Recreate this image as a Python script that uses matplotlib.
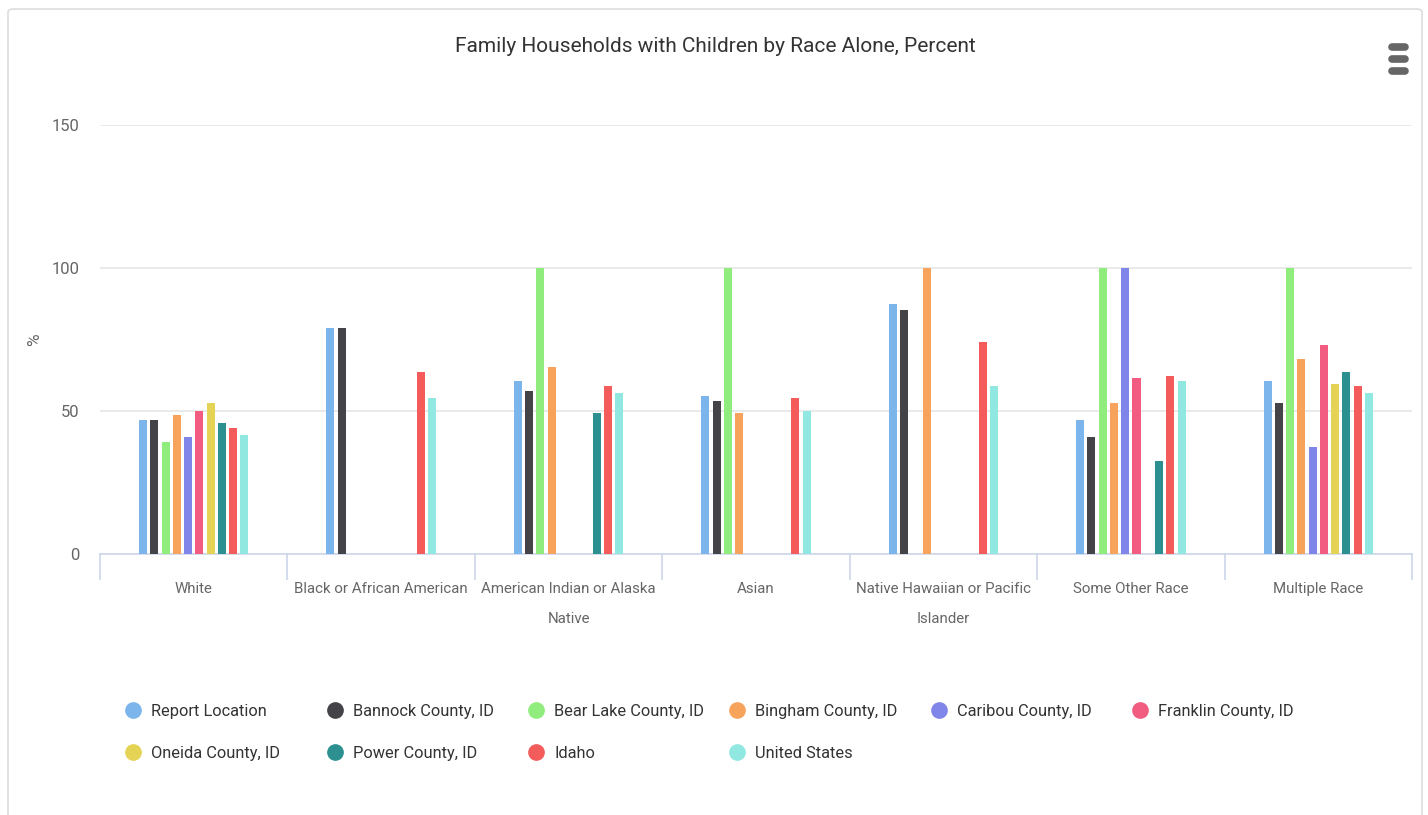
import matplotlib
matplotlib.use("Agg")
import matplotlib.pyplot as plt
import numpy as np
from matplotlib.lines import Line2D
from matplotlib.patches import FancyBboxPatch

plt.rcParams.update({
    "font.family": ["Roboto", "DejaVu Sans"],
    "figure.dpi": 100,
    "figure.facecolor": "white",
})

nan = np.nan

categories = [
    "White",
    "Black or African American",
    "American Indian or Alaska\nNative",
    "Asian",
    "Native Hawaiian or Pacific\nIslander",
    "Some Other Race",
    "Multiple Race",
]

series_names = [
    "Report Location", "Bannock County, ID", "Bear Lake County, ID",
    "Bingham County, ID", "Caribou County, ID", "Franklin County, ID",
    "Oneida County, ID", "Power County, ID", "Idaho", "United States",
]

colors = [
    "#7cb5ec", "#434348", "#90ed7d", "#f7a35c", "#8085e9",
    "#f15c80", "#e4d354", "#2b908f", "#f45b5b", "#91e8e1",
]

# one list per series, values by category (nan = no data)
report_location = [46.7, 79.1, 60.4, 55.3, 87.5, 46.7, 60.5]
bannock = [46.7, 79.1, 56.9, 53.6, 85.2, 40.8, 52.8]
bear_lake = [39.3, nan, 100.0, 100.0, nan, 100.0, 100.0]
bingham = [48.5, nan, 65.5, 49.4, 100.0, 52.8, 68.2]
caribou = [40.8, nan, nan, nan, nan, 100.0, 37.5]
franklin = [50.1, nan, nan, nan, nan, 61.4, 73.2]
oneida = [52.7, nan, nan, nan, nan, nan, 59.5]
power = [45.9, nan, 49.4, nan, nan, 32.5, 63.8]
idaho = [44.2, 63.8, 58.8, 54.5, 74.0, 62.1, 58.7]
united_states = [41.6, 54.7, 56.2, 50.1, 58.7, 60.5, 56.4]

all_series = [report_location, bannock, bear_lake, bingham, caribou,
              franklin, oneida, power, idaho, united_states]

W, H = 1428, 815
fig = plt.figure(figsize=(W / 100, H / 100), dpi=100)

# card border
fig.add_artist(FancyBboxPatch((8 / W, -0.05), 1414 / W, 1 - 9 / H + 0.05,
                              boxstyle="round,pad=0,rounding_size=0.004",
                              transform=fig.transFigure, fill=False,
                              edgecolor="#dddddd", linewidth=1.2))

ax = fig.add_axes([100 / W, (H - 554) / H, 1312 / W, (554 - 125) / H])

x = np.arange(len(categories))
slot = 0.0601
bar_w = 0.043
n = len(all_series)
for i, (vals, col) in enumerate(zip(all_series, colors)):
    ax.bar(x + (i - (n - 1) / 2) * slot, vals, width=bar_w, color=col,
           zorder=3, linewidth=0)

ax.set_xlim(-0.5, len(categories) - 0.5)
ax.set_ylim(0, 150)
ax.set_yticks([0, 50, 100, 150])
ax.grid(axis="y", color="#e6e6e6", linewidth=1.2, zorder=0)
for s in ["top", "right", "left"]:
    ax.spines[s].set_visible(False)
ax.spines["bottom"].set_color("#ccd6eb")
ax.spines["bottom"].set_linewidth(1.2)

ax.set_xticks(np.arange(len(categories) + 1) - 0.5)
ax.set_xticklabels([])
ax.tick_params(axis="x", which="major", length=19, color="#ccd6eb", width=1.2)
ax.set_xticks(x, minor=True)
ax.set_xticklabels(categories, minor=True, fontsize=10.8, color="#666666",
                   linespacing=2.5)
ax.tick_params(axis="x", which="minor", length=0, pad=20)
ax.tick_params(axis="y", length=0, pad=15, labelsize=12, labelcolor="#666666")

fig.text(35 / W, 1 - 340 / H, "%", rotation=90, fontsize=12.5,
         color="#666666", ha="center", va="center")

fig.text(715 / W, 1 - 47 / H, "Family Households with Children by Race Alone, Percent",
         fontsize=15, color="#333333", ha="center", va="center")

# menu icon
for yy in [47, 59, 71]:
    fig.add_artist(Line2D([1392 / W, 1405 / W], [1 - yy / H, 1 - yy / H],
                          transform=fig.transFigure, color="#666666",
                          linewidth=5.5, solid_capstyle="round"))

# legend
col_x = [133, 335, 536, 737, 939, 1140]
row_y = [710, 752]
for i, (name, col) in enumerate(zip(series_names, colors)):
    cx = col_x[i % 6]
    cy = row_y[i // 6]
    fig.add_artist(Line2D([cx / W], [1 - cy / H], transform=fig.transFigure,
                          marker="o", markersize=11, color=col,
                          linestyle="none"))
    fig.text((cx + 18) / W, 1 - cy / H, name, fontsize=11.8, color="#333333",
             ha="left", va="center_baseline")

fig.savefig("out.png", dpi=100)
